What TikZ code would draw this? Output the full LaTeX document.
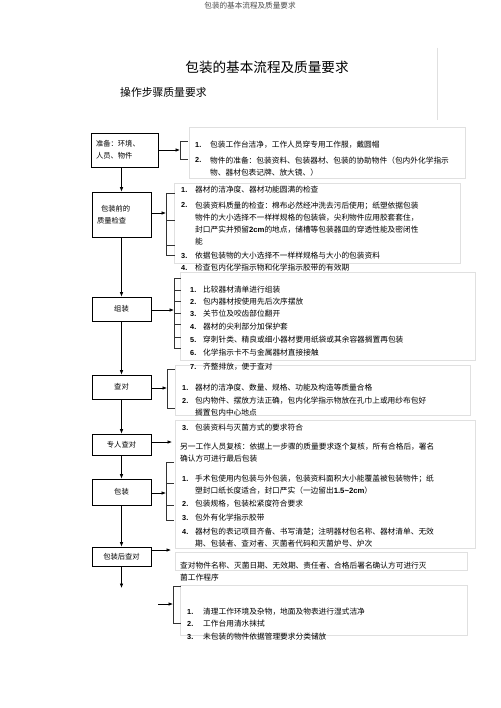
\documentclass[tikz,border=0pt]{standalone}
\usepackage{fontspec}
\setmainfont{Liberation Serif}
\newfontfamily\cjk{Noto Sans CJK SC}
\newfontfamily\numfont{Liberation Sans}
\usetikzlibrary{arrows.meta}

\tikzset{
  stagebox/.style={draw, line width=0.6pt, inner xsep=5pt, inner ysep=0pt, text width=#1, align=left,
    font=\cjk\fontsize{7.3}{12}\selectfont},
  stagebox/.default=49pt,
  flowarrow/.style={line width=0.7pt, -{Latex[length=4.5pt,width=3.6pt]}},
  bracketline/.style={line width=0.5pt, black!80},
  textframe/.style={draw=black!12, line width=0.4pt},
  itemnum/.style={anchor=west, inner sep=0pt, font=\numfont\bfseries\fontsize{7.3}{12}\selectfont},
  itemtext/.style={anchor=west, inner sep=0pt, align=left, font=\cjk\fontsize{7.7}{12}\selectfont},
}
\newcommand{\bnum}[1]{{\numfont\bfseries #1}}

\begin{document}
\begin{tikzpicture}[x=1pt,y=1pt,yscale=-1,xscale=1]
    \path[use as bounding box, fill=white] (0,0) rectangle (500,708);

    % Headings
    \node[inner sep=0pt, text=black!70, font=\cjk\fontsize{7.6}{9}\selectfont] (header) at (250,6) {包装的基本流程及质量要求};
    \node[inner sep=0pt, font=\cjk\fontsize{13.6}{16}\selectfont] (title) at (267,67) {包装的基本流程及质量要求};
    \node[inner sep=0pt, anchor=west, font=\cjk\fontsize{10.8}{13}\selectfont] (subtitle) at (120,92) {操作步骤质量要求};

    % Text frames
    \draw[textframe] (437,48) -- (437,120);
    \draw[textframe] (189,127) rectangle (465,178);
    \draw[textframe] (174,183) rectangle (460,263);
    \draw[textframe] (180,272) rectangle (475,360);
    \draw[textframe] (175,365) rectangle (470,415);
    \draw[textframe] (175,420) rectangle (475,548);
    \draw[textframe] (175,552) rectangle (467,570);
    \draw[textframe] (180,585) rectangle (467,635);

    % Stage boxes
    \node[stagebox=57pt, minimum height=34pt] (prep) at (124.5,150) {准备：环境、\\人员、物件};
    \node[stagebox, minimum height=45pt] (precheck) at (121.5,214.5) {\hspace*{4pt}包装前的\\质量检查};
    \node[stagebox, minimum height=24pt, align=center] (assemble) at (121.5,309) {组装};
    \node[stagebox, minimum height=24pt, align=center] (check) at (121.5,387) {查对};
    \node[stagebox, minimum height=21pt, align=center] (recheck) at (121.5,444.5) {专人查对};
    \node[stagebox, minimum height=26pt, align=center] (pack) at (121.5,492) {包装};
    \node[stagebox, minimum height=19pt, align=center] (postcheck) at (121.5,556.5) {包装后查对};

    % Bracket ends
    \coordinate (b1) at (180,150);
    \coordinate (b2) at (166,213);
    \coordinate (b3) at (174,310);
    \coordinate (b4) at (167,388);
    \coordinate (t5) at (172,442);
    \coordinate (b6) at (166,493);
    \coordinate (t7) at (171,550);
    \coordinate (s8) at (158,604);
    \coordinate (b8) at (173,604);
    \coordinate (tail) at (121.5,588);

    % Brackets
    \draw[bracketline] (180,141) -- (180,159);
    \foreach \ty in {141,159} \draw[bracketline] (180,\ty) -- ++(8,0);
    \draw[bracketline] (166,193) -- (166,255);
    \foreach \ty in {193,220,245,255} \draw[bracketline] (166,\ty) -- ++(9,0);
    \draw[bracketline] (174,278) -- (174,348);
    \foreach \ty in {278,290,301,313,324,337,348} \draw[bracketline] (174,\ty) -- ++(7,0);
    \draw[bracketline] (167,369) -- (167,408);
    \foreach \ty in {369,408} \draw[bracketline] (167,\ty) -- ++(8,0);
    \draw[bracketline] (166,462) -- (166,520);
    \foreach \ty in {462,483,505,520} \draw[bracketline] (166,\ty) -- ++(8,0);
    \draw[bracketline] (173,586) -- (173,623);
    \foreach \ty in {586,623} \draw[bracketline] (173,\ty) -- ++(8,0);

    % Connections down
    \draw[flowarrow] (precheck.north |- prep.south) -- (precheck.north);
    \draw[flowarrow] (precheck.south) -- (assemble.north);
    \draw[flowarrow] (assemble.south) -- (check.north);
    \draw[flowarrow] (check.south) -- (recheck.north);
    \draw[flowarrow] (recheck.south) -- (pack.north);
    \draw[flowarrow] (pack.south) -- (postcheck.north);
    \draw[flowarrow] (postcheck.south) -- (tail);

    % Connections right
    \draw[flowarrow] (prep.east) -- (b1);
    \draw[flowarrow] (precheck.east |- b2) -- (b2);
    \draw[flowarrow] (assemble.east |- b3) -- (b3);
    \draw[flowarrow] (check.east |- b4) -- (b4);
    \draw[flowarrow] (recheck.east |- t5) -- (t5);
    \draw[flowarrow] (pack.east |- b6) -- (b6);
    \draw[flowarrow] (postcheck.east |- t7) -- (t7);
    \draw[flowarrow] (s8) -- (b8);

    % List: prep
    \node[itemnum] (n11) at (195,145) {1.};
    \node[itemtext] (i11) at (210,145) {包装工作台洁净，工作人员穿专用工作服，戴圆帽};
    \node[itemnum] (n12) at (195,160) {2.};
    \node[itemtext] (i12) at (210,166.5) {物件的准备：包装资料、包装器材、包装的协助物件（包内外化学指示\\物、器材包表记牌、放大镜、）};

    % List: precheck
    \node[itemnum] (n21) at (181,190) {1.};
    \node[itemtext] (i21) at (195,190) {器材的洁净度、器材功能圆满的检查};
    \node[itemnum] (n22) at (181,205) {2.};
    \node[itemtext] (i22) at (195,223.5) {包装资料质量的检查：棉布必然经冲洗去污后使用；纸塑依据包装\\物件的大小选择不一样样规格的包装袋，尖利物件应用胶套套住，\\封口严实并预留\bnum{2cm}的地点，储槽等包装器皿的穿透性能及密闭性\\能};
    \node[itemnum] (n23) at (181,256) {3.};
    \node[itemtext] (i23) at (195,256) {依据包装物的大小选择不一样样规格与大小的包装资料};
    \node[itemnum] (n24) at (181,268) {4.};
    \node[itemtext] (i24) at (195,268) {检查包内化学指示物和化学指示胶带的有效期};

    % List: assemble
    \node[itemnum] (n31) at (190,290) {1.};
    \node[itemtext] (i31) at (203,290) {比较器材清单进行组装};
    \node[itemnum] (n32) at (190,302) {2.};
    \node[itemtext] (i32) at (203,302) {包内器材按使用先后次序摆放};
    \node[itemnum] (n33) at (190,314) {3.};
    \node[itemtext] (i33) at (203,314) {关节位及咬齿部位翻开};
    \node[itemnum] (n34) at (190,327) {4.};
    \node[itemtext] (i34) at (203,327) {器材的尖利部分加保护套};
    \node[itemnum] (n35) at (190,340) {5.};
    \node[itemtext] (i35) at (203,340) {穿刺针类、精良或细小器材要用纸袋或其余容器搁置再包装};
    \node[itemnum] (n36) at (190,353) {6.};
    \node[itemtext] (i36) at (203,353) {化学指示卡不与金属器材直接接触};
    \node[itemnum] (n37) at (190,367) {7.};
    \node[itemtext] (i37) at (203,367) {齐整排放，便于查对};

    % List: check
    \node[itemnum] (n41) at (182,388) {1.};
    \node[itemtext] (i41) at (195,388) {器材的洁净度、数量、规格、功能及构造等质量合格};
    \node[itemnum] (n42) at (182,401) {2.};
    \node[itemtext] (i42) at (195,407) {包内物件、摆放方法正确，包内化学指示物放在孔巾上或用纱布包好\\搁置包内中心地点};
    \node[itemnum] (n43) at (182,428) {3.};
    \node[itemtext] (i43) at (195,428) {包装资料与灭菌方式的要求符合};

    % Text: recheck
    \node[itemtext] (i51) at (180,453) {另一工作人员复核：依据上一步骤的质量要求逐个复核，所有合格后，署名\\确认方可进行最后包装};

    % List: pack
    \node[itemnum] (n61) at (182,479) {1.};
    \node[itemtext] (i61) at (195,485) {手术包使用内包装与外包装，包装资料面积大小能覆盖被包装物件；纸\\塑封口纸长度适合，封口严实（一边留出\bnum{1.5\textasciitilde2cm}）};
    \node[itemnum] (n62) at (182,504) {2.};
    \node[itemtext] (i62) at (195,504) {包装规格，包装松紧度符合要求};
    \node[itemnum] (n63) at (182,518) {3.};
    \node[itemtext] (i63) at (195,518) {包外有化学指示胶带};
    \node[itemnum] (n64) at (182,532) {4.};
    \node[itemtext] (i64) at (195,538) {器材包的表记项目齐备、书写清楚；注明器材包名称、器材清单、无效\\期、包装者、查对者、灭菌者代码和灭菌炉号、炉次};

    % Text: postcheck
    \node[itemtext] (i71) at (180,572) {查对物件名称、灭菌日期、无效期、责任者、合格后署名确认方可进行灭\\菌工作程序};

    % List: after work
    \node[itemnum] (n81) at (187,612) {1.};
    \node[itemtext] (i81) at (203,612) {清理工作环境及杂物，地面及物表进行湿式洁净};
    \node[itemnum] (n82) at (187,624) {2.};
    \node[itemtext] (i82) at (203,624) {工作台用清水抹拭};
    \node[itemnum] (n83) at (187,637) {3.};
    \node[itemtext] (i83) at (203,637) {未包装的物件依据管理要求分类储放};

\end{tikzpicture}
\end{document}
